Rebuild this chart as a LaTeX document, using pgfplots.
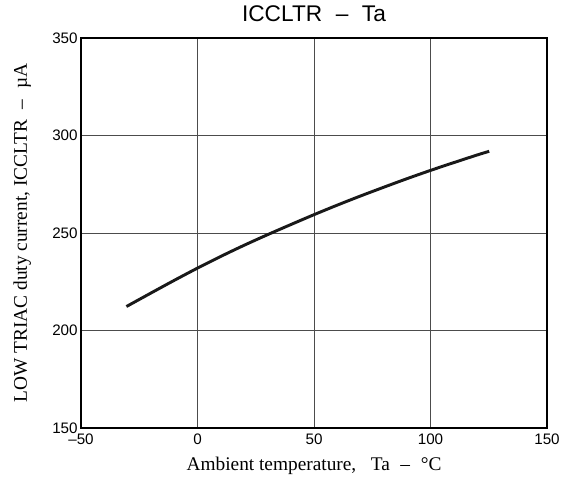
\documentclass[border=0pt]{standalone}
\usepackage{fontspec}
\setmainfont{Liberation Serif}
\newfontfamily\arial{Liberation Sans}
\usepackage{pgfplots}
\pgfplotsset{compat=1.18}
\begin{document}
\begin{tikzpicture}[x=0.75pt,y=0.75pt]
% fix the page to the reference's 570x482 frame
\useasboundingbox (-81,-54) rectangle (489,428);
\begin{axis}[
    at={(0,0)}, anchor=south west,
    scale only axis=true,
    width=349.5pt, height=292.5pt,
    xmin=-50, xmax=150, ymin=150, ymax=350,
    xtick={-50,0,50,100,150},
    ytick={150,200,250,300,350},
    major tick length=0pt,
    grid=major,
    major grid style={black!70, line width=0.75pt},
    axis line style={black, line width=1.1pt},
    /pgf/number format/assume math mode=true,
    ticklabel style={font=\arial\fontsize{11.4}{13}\selectfont},
    xticklabel style={yshift=-1pt},
    yticklabel style={xshift=1pt},
    xticklabels={\textendash50,0,50,100,150},
    title={\arial\fontsize{17}{19}\selectfont ICCLTR\hspace{0.6em}\textendash\hspace{0.6em}Ta},
    title style={at={([yshift=6.5pt]axis description cs:0.5,1)}, anchor=base},
    xlabel={\fontsize{14.5}{16}\selectfont Ambient temperature,\hspace{0.75em}Ta\hspace{0.55em}\textendash\hspace{0.55em}°C},
    ylabel={\fontsize{14.5}{16}\selectfont LOW TRIAC duty current, ICCLTR\hspace{0.55em}\textendash\hspace{0.55em}µA},
    xlabel style={at={([yshift=-31.5pt]axis description cs:0.5,0)}, anchor=base},
    ylabel style={at={([xshift=-44pt]axis description cs:0,0.5)}, anchor=center},
]
\addplot[black!90, line width=2.2pt, smooth] coordinates {
    (-30.5,212.3) (-20,219.2) (-10,225.7) (0,232.0) (10,238.0) (20,243.7)
    (30,249.1) (40,254.3) (50,259.4) (60,264.3) (70,269.0) (80,273.5)
    (90,277.9) (100,282.1) (110,286.1) (120,290.0) (125.2,291.9)
};
\end{axis}
\end{tikzpicture}
\end{document}
